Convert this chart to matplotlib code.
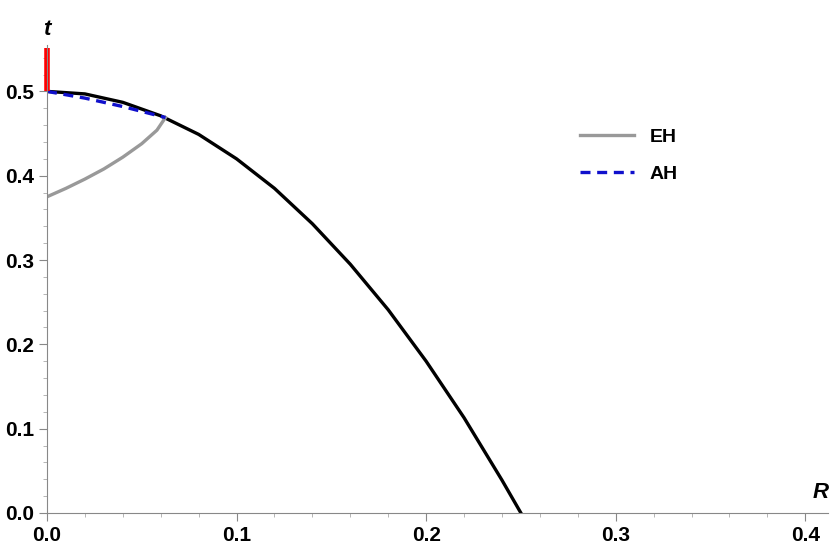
import matplotlib
matplotlib.use("Agg")
import matplotlib.pyplot as plt
from matplotlib.ticker import MultipleLocator

plt.rcParams['font.family'] = ['Liberation Sans', 'DejaVu Sans']

# boundary curve (black)
r_bound = [0, 0.02, 0.04, 0.06, 0.08, 0.1, 0.12, 0.14, 0.16, 0.18, 0.2, 0.22, 0.24, 0.25]
t_bound = [0.5, 0.497, 0.487, 0.471, 0.449, 0.42, 0.385, 0.343, 0.295, 0.241, 0.18, 0.113, 0.039, 0.0]
# event horizon (gray)
r_eh = [0, 0.01, 0.02, 0.03, 0.04, 0.05, 0.058, 0.0625]
t_eh = [0.375, 0.385, 0.396, 0.408, 0.422, 0.438, 0.454, 0.469]
# apparent horizon (blue dashed)
r_ah = [0, 0.02, 0.04, 0.0625]
t_ah = [0.5, 0.492, 0.482, 0.469]
# singularity (red)
r_sing = [0, 0]
t_sing = [0.5, 0.552]

fig = plt.figure(figsize=(8.3, 5.56), dpi=100)
ax = fig.add_axes([47/830, (556-513)/556, 781/830, (513-45)/556])

ax.plot(r_bound, t_bound, color="black", lw=2.4)
ax.plot(r_eh, t_eh, color="#999999", lw=2.4, label="EH")
ax.plot(r_ah, t_ah, color="#1010cc", lw=2.4, ls=(0, (3, 2)), label="AH")
ax.plot(r_sing, t_sing, color="red", lw=4, solid_capstyle="butt", clip_on=False)

ax.set_xlim(0, 0.412)
ax.set_ylim(0, 0.555)
for s in ["top", "right"]:
    ax.spines[s].set_visible(False)
for s in ["left", "bottom"]:
    ax.spines[s].set_color("#888888")
ax.xaxis.set_major_locator(MultipleLocator(0.1))
ax.xaxis.set_minor_locator(MultipleLocator(0.02))
ax.yaxis.set_major_locator(MultipleLocator(0.1))
ax.yaxis.set_minor_locator(MultipleLocator(0.02))
ax.tick_params(which="major", length=6, color="#888888", labelsize=15)
ax.tick_params(which="minor", length=3, color="#aaaaaa")
ax.set_xticks([0, 0.1, 0.2, 0.3, 0.4])
ax.set_xticklabels(["0.0", "0.1", "0.2", "0.3", "0.4"], fontweight="bold")
ax.set_yticks([0, 0.1, 0.2, 0.3, 0.4, 0.5])
ax.set_yticklabels(["0.0", "0.1", "0.2", "0.3", "0.4", "0.5"], fontweight="bold")

ax.text(0, 1.01, "t", transform=ax.transAxes, fontsize=16, fontweight="bold",
        fontstyle="italic", ha="center", va="bottom")
ax.text(0.408, 0.012, "R", transform=ax.transData, fontsize=16, fontweight="bold",
        fontstyle="italic", ha="center", va="bottom")

leg = ax.legend(loc="upper left", bbox_to_anchor=(0.66, 0.86), frameon=False,
                handlelength=2.8, fontsize=14, labelspacing=1.0)
for t in leg.get_texts():
    t.set_fontweight("bold")

fig.savefig("out.png", dpi=100)
